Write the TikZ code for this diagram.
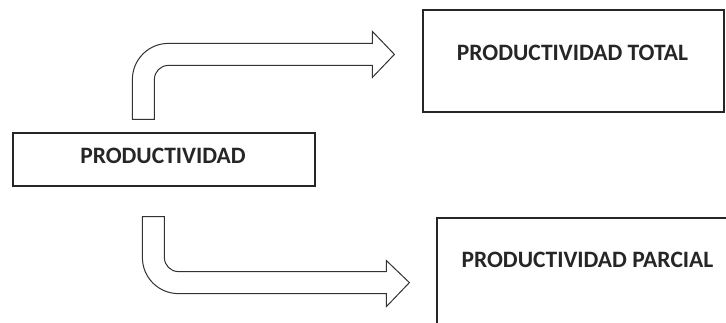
\documentclass[tikz,border=0pt]{standalone}
\usepackage{fontspec}
\setmainfont{Carlito}
\usepackage{tikz}
\usetikzlibrary{calc}

\tikzset{
  caja/.style={draw=black!85, line width=1.2pt, inner sep=0pt},
  texto/.style={font=\fontsize{23.5}{28}\selectfont\bfseries, text=black!85, inner sep=0pt},
  flecha/.style={draw=black!80, line width=1pt, fill=white, line join=miter}
}

\begin{document}
\begin{tikzpicture}[x=1pt,y=1pt]
  \useasboundingbox (0,0) rectangle (726,322);
  \clip (0,0) rectangle (726,322);
  % cajas
  \node[caja, minimum width=302pt, minimum height=53pt] (prod) at (164,162.5) {};
  \node[caja, minimum width=301pt, minimum height=102pt] (total) at (573.5,261) {};
  \node[caja, minimum width=303pt, minimum height=122pt] (parcial) at (588.5,43) {};
  % textos
  \node[texto] (tprod) at ($(prod.center)+(-1,4)$) {PRODUCTIVIDAD};
  \node[texto] (ttotal) at ($(total.center)+(-1,8)$) {PRODUCTIVIDAD TOTAL};
  \node[texto] (tparcial) at ($(parcial.north)+(-1,-42.5)$) {PRODUCTIVIDAD PARCIAL};
  % flechas
  \coordinate (a1) at ($(prod.north west)+(120,13)$);
  \coordinate (a2) at ($(prod.south west)+(130,-30)$);
  \draw[flecha] (a1) -- ++(0,40) arc[start angle=180,end angle=90,radius=36]
    -- ++(204,0) -- ++(0,12) -- ++(22,-23) -- ++(-22,-23) -- ++(0,12)
    -- ++(-204,0) arc[start angle=90,end angle=180,radius=14] -- ++(0,-40) -- cycle;
  \draw[flecha] (a2) -- ++(0,-41) arc[start angle=180,end angle=270,radius=36]
    -- ++(208,0) -- ++(0,-13) -- ++(23,24) -- ++(-23,22) -- ++(0,-11)
    -- ++(-208,0) arc[start angle=270,end angle=180,radius=14] -- ++(0,41) -- cycle;
\end{tikzpicture}
\end{document}
